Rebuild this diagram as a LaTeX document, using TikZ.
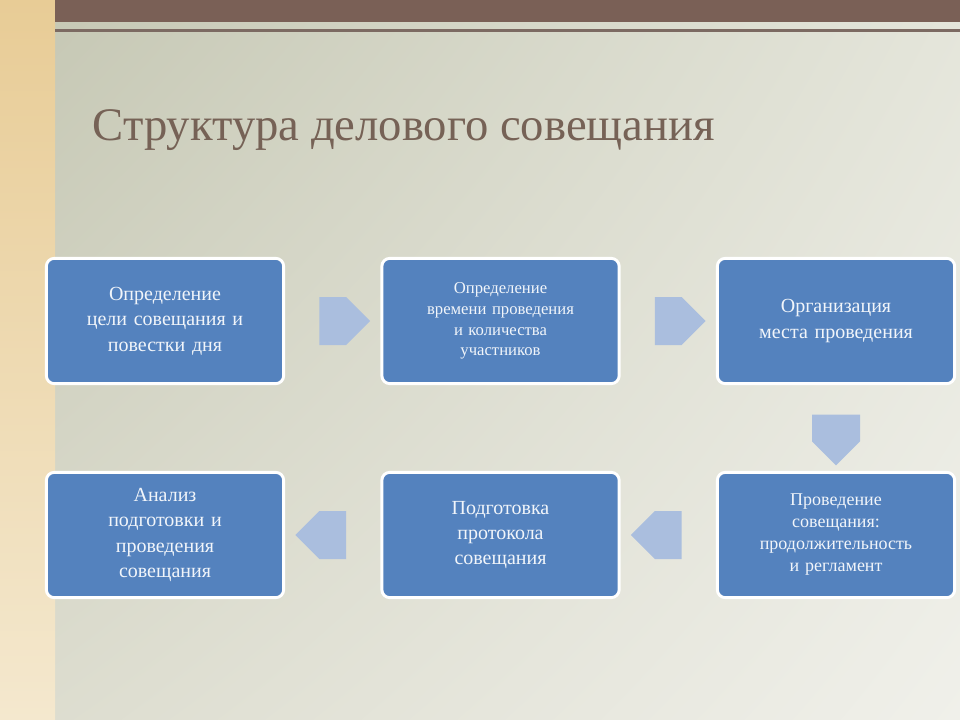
\documentclass[tikz,border=0pt]{standalone}
\usepackage{fontspec}
\setmainfont{Liberation Serif}
\usetikzlibrary{shapes.arrows,calc,shadings}
\definecolor{boxblue}{RGB}{84,130,190}
\definecolor{arrowblue}{RGB}{170,190,222}
\definecolor{titlebrown}{RGB}{118,98,86}
\definecolor{barbrown}{RGB}{122,96,86}
\definecolor{bgul}{RGB}{196,198,178}
\definecolor{bgur}{RGB}{228,229,218}
\definecolor{bgll}{RGB}{220,220,206}
\definecolor{bglr}{RGB}{240,240,234}
\definecolor{stript}{RGB}{232,204,150}
\definecolor{stripb}{RGB}{244,232,206}
\tikzset{
  stepbox/.style={draw=white,line width=2.2pt,fill=boxblue,rounded corners=6pt,
    minimum width=178pt,minimum height=94pt,text width=170pt,align=center,
    text=white!92!boxblue,font=\fontsize{15}{19}\selectfont},
  blockarrow/.style={single arrow,fill=arrowblue,draw=none,minimum height=38pt,
    minimum width=36pt,single arrow head extend=0pt,single arrow tip angle=90,inner sep=0pt}
}
\begin{document}
\begin{tikzpicture}[x=0.75pt,y=0.75pt,yscale=-1,xscale=1]
\useasboundingbox (0,0) rectangle (960,720);
%background
\shade[upper left=bgul,lower right=bglr,upper right=bgur,lower left=bgll] (0,0) rectangle (960,720);
\shade[top color=stript,bottom color=stripb] (0,0) rectangle (55,720);
\fill[barbrown] (55,0) rectangle (960,22);
\fill[barbrown!70!gray] (55,29) rectangle (960,32);
%title
\node[anchor=west,text=titlebrown,font=\fontsize{35}{40}\selectfont] (title) at (88,130) {Структура делового совещания};
%boxes
\node[stepbox] (goal) at (165,321) {Определение\\цели совещания и\\повестки дня};
\node[stepbox,font=\fontsize{12.5}{15.5}\selectfont] (time) at (500.5,321) {Определение\\времени проведения\\и количества\\участников};
\node[stepbox] (place) at (836,321) {Организация\\места проведения};
\node[stepbox,font=\fontsize{13.5}{16.5}\selectfont] (hold) at (836,535) {Проведение\\совещания:\\продолжительность\\и регламент};
\node[stepbox] (report) at (500.5,535) {Подготовка\\протокола\\совещания};
\node[stepbox] (review) at (165,535) {Анализ\\подготовки и\\проведения\\совещания};
%arrows
\node[blockarrow] (a1) at ($(goal.east)!0.5!(time.west)$) {};
\node[blockarrow] (a2) at ($(time.east)!0.5!(place.west)$) {};
\node[blockarrow,shape border rotate=270] (a3) at ($(place.south)!0.5!(hold.north)$) {};
\node[blockarrow,shape border rotate=180] (a4) at ($(hold.west)!0.5!(report.east)$) {};
\node[blockarrow,shape border rotate=180] (a5) at ($(report.west)!0.5!(review.east)$) {};
\end{tikzpicture}
\end{document}
